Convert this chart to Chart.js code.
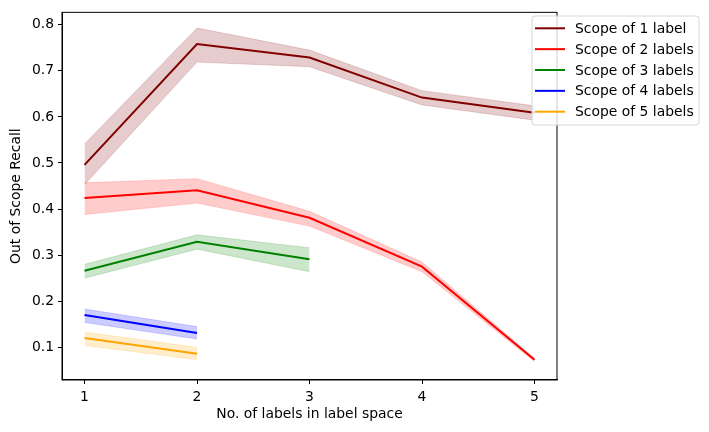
<!DOCTYPE html>
<html>
<head>
<meta charset="utf-8">
<script src="https://cdn.jsdelivr.net/npm/chart.js@4.4.0/dist/chart.umd.min.js"></script>
<style>
  html, body { margin: 0; padding: 0; background: #fff; }
  #wrap { width: 709px; height: 432px; }
</style>
</head>
<body>
<div id="wrap"><canvas id="myChart" width="709" height="432"></canvas></div>
<script>
const labelSpace = [1, 2, 3, 4, 5];
const xTicks = [1, 2, 3, 4, 5];
const yTicks = [0.1, 0.2, 0.3, 0.4, 0.5, 0.6, 0.7, 0.8];

const scope1 = [0.496, 0.758, 0.729, 0.642, 0.609];
const scope1Low = [0.453, 0.719, 0.709, 0.626, 0.593];
const scope1High = [0.541, 0.793, 0.745, 0.657, 0.624];

const scope2 = [0.424, 0.441, 0.381, 0.275, 0.073];
const scope2Low = [0.388, 0.413, 0.363, 0.264, 0.069];
const scope2High = [0.457, 0.466, 0.395, 0.285, 0.076];

const scope3 = [0.266, 0.329, 0.291];
const scope3Low = [0.250, 0.313, 0.264];
const scope3High = [0.280, 0.344, 0.316];

const scope4 = [0.170, 0.131];
const scope4Low = [0.154, 0.118];
const scope4High = [0.183, 0.145];

const scope5 = [0.120, 0.086];
const scope5Low = [0.104, 0.073];
const scope5High = [0.133, 0.100];

const seriesNames = ['Scope of 1 label', 'Scope of 2 labels', 'Scope of 3 labels', 'Scope of 4 labels', 'Scope of 5 labels'];
const seriesColors = ['rgb(128,0,0)', 'rgb(255,0,0)', 'rgb(0,128,0)', 'rgb(0,0,255)', 'rgb(255,165,0)'];
const bandColors = ['rgba(128,0,0,0.2)', 'rgba(255,0,0,0.2)', 'rgba(0,128,0,0.2)', 'rgba(0,0,255,0.2)', 'rgba(255,165,0,0.2)'];

const means = [scope1, scope2, scope3, scope4, scope5];
const lows = [scope1Low, scope2Low, scope3Low, scope4Low, scope5Low];
const highs = [scope1High, scope2High, scope3High, scope4High, scope5High];

const FONT = 'DejaVu Sans';
const FSIZE = 13.9;

function pts(arr) {
    return arr.map((v, i) => ({ x: labelSpace[i], y: v }));
}

const datasets = [];
for (let s = 0; s < means.length; s++) {
    datasets.push({
        label: '_low' + s, data: pts(lows[s]), borderWidth: 0.8, borderColor: bandColors[s],
        pointRadius: 0, fill: false, tension: 0
    });
    datasets.push({
        label: '_high' + s, data: pts(highs[s]), borderWidth: 0.8, borderColor: bandColors[s],
        backgroundColor: bandColors[s], pointRadius: 0, fill: '-1', tension: 0
    });
}
for (let s = 0; s < means.length; s++) {
    datasets.push({
        label: seriesNames[s], data: pts(means[s]), borderWidth: 2, borderColor: seriesColors[s],
        pointRadius: 0, fill: false, tension: 0
    });
}

// matplotlib style legend, half outside the axes
const legendBox = {
    id: 'legendBox',
    afterDraw(chart) {
        const ctx = chart.ctx;
        const x = 532, y = 16, w = 167, h = 109;
        ctx.save();
        ctx.beginPath();
        ctx.roundRect(x, y, w, h, 3);
        ctx.fillStyle = 'rgba(255,255,255,0.8)';
        ctx.fill();
        ctx.strokeStyle = '#d6d6d6';
        ctx.lineWidth = 1;
        ctx.stroke();
        ctx.font = FSIZE + 'px "' + FONT + '"';
        ctx.textBaseline = 'middle';
        for (let s = 0; s < seriesNames.length; s++) {
            const cy = 28.3 + s * 20.85;
            ctx.beginPath();
            ctx.moveTo(535, cy);
            ctx.lineTo(565, cy);
            ctx.strokeStyle = seriesColors[s];
            ctx.lineWidth = 2;
            ctx.stroke();
            ctx.fillStyle = '#000';
            ctx.fillText(seriesNames[s], 575, cy + 1);
        }
        ctx.restore();
    }
};

const config = {
    type: 'line',
    data: { datasets: datasets },
    options: {
        responsive: false,
        animation: false,
        layout: { padding: { top: 10, right: 152, left: 0, bottom: 0 } },
        plugins: { legend: { display: false }, tooltip: { enabled: false } },
        scales: {
            x: {
                type: 'linear', min: 0.8, max: 5.2,
                afterBuildTicks: (axis) => { axis.ticks = xTicks.map(v => ({ value: v })); },
                afterFit: (axis) => { axis.height = 52; },
                ticks: { color: '#000', font: { family: FONT, size: FSIZE }, padding: 5, maxRotation: 0 },
                grid: { drawOnChartArea: false, color: '#000', tickLength: 4, tickWidth: 1 },
                border: { color: '#000', width: 1 },
                title: { display: true, text: 'No. of labels in label space', color: '#000',
                         font: { family: FONT, size: FSIZE }, padding: { top: 9, bottom: 9 } }
            },
            y: {
                type: 'linear', min: 0.029, max: 0.827,
                afterBuildTicks: (axis) => { axis.ticks = yTicks.map(v => ({ value: v })); },
                afterFit: (axis) => { axis.width = 62; },
                ticks: { color: '#000', font: { family: FONT, size: FSIZE }, padding: 4,
                         callback: (v) => v.toFixed(1) },
                grid: { drawOnChartArea: false, color: '#000', tickLength: 4, tickWidth: 1 },
                border: { color: '#000', width: 1 },
                title: { display: true, text: 'Out of Scope Recall', color: '#000',
                         font: { family: FONT, size: FSIZE }, padding: { top: 8, bottom: 8 } }
            }
        }
    },
    plugins: [legendBox, {
        id: 'frame',
        afterDatasetsDraw(chart) {
            const a = chart.chartArea, ctx = chart.ctx;
            ctx.save();
            ctx.strokeStyle = '#000';
            ctx.lineWidth = 1;
            ctx.strokeRect(a.left, a.top, a.right - a.left, a.bottom - a.top);
            ctx.restore();
        }
    }]
};

const myChart = new Chart(document.getElementById('myChart'), config);
</script>
</body>
</html>
